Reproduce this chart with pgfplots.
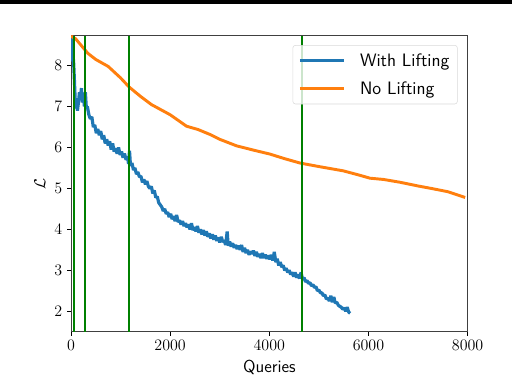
\documentclass[border=0pt]{standalone}
\usepackage{pgfplots}
\pgfplotsset{compat=1.18}
\definecolor{mblue}{HTML}{1F77B4}
\definecolor{morange}{HTML}{FF7F0E}
\definecolor{mgreen}{HTML}{008000}

\begin{document}
\begin{tikzpicture}
\useasboundingbox (0,0) rectangle (384pt,283.5pt);
\begin{axis}[
    at={(53.25pt,34.7pt)}, anchor=south west,
    scale only axis,
    width=297.5pt, height=222pt,
    xmin=0, xmax=8000, ymin=1.5, ymax=8.73,
    xtick={0,2000,4000,6000,8000},
    ytick={2,3,4,5,6,7,8},
    scaled x ticks=false,
    xticklabel style={/pgf/number format/1000 sep=},
    tick align=outside, tick pos=left,
    major tick length=3pt,
    tick style={black, line width=0.6pt},
    axis line style={black!75, line width=0.6pt},
    tick label style={font=\fontsize{12.4}{14}\selectfont},
    label style={font=\fontsize{13}{15}\sffamily},
    xlabel={Queries},
    ylabel={$\mathcal{L}$},
    legend cell align=left,
    legend style={at={(1,1)}, anchor=north east, xshift=-7.5pt, yshift=-7pt,
        draw=black!15, rounded corners=2pt, fill=white, fill opacity=0.8,
        text opacity=1, draw opacity=1,
        font=\fontsize{13.5}{16}\sffamily,
        row sep=6pt, inner xsep=4pt, inner ysep=4pt,
        /tikz/every odd column/.append style={column sep=9pt}},
    legend image code/.code={\draw[#1] (0pt,0pt) -- (33pt,0pt);},
    every axis plot/.append style={line cap=butt},
]
\addplot[draw=mblue, line width=2.4pt, line join=bevel] coordinates {
(0,8.72) (10,8.55) (20,8.65) (30,8.2) (40,8.1) (50,8.15) (60,7.9) (70,7.6)
(80,7.3) (90,7.05) (100,7.15) (110,6.95) (120,7.05) (130,6.9) (150,7.1)
(170,7.35) (190,7.2) (210,7.45) (230,7.1) (250,7.3) (270,7.0) (290,7.35)
(310,6.95) (330,7.0) (360,6.8) (390,6.7) (420,6.75) (450,6.5) (480,6.55)
(510,6.35) (540,6.45) (570,6.3) (600,6.4) (630,6.2) (660,6.3) (690,6.1)
(720,6.2) (750,6.05) (780,6.15) (810,5.95) (840,6.1) (870,5.9) (900,5.98)
(930,5.85) (960,6.0) (990,5.82) (1020,5.9) (1050,5.75) (1080,5.85) (1110,5.7)
(1140,5.78) (1160,5.6) (1180,5.92) (1200,5.55) (1230,5.62) (1260,5.45)
(1290,5.5) (1320,5.35) (1350,5.4) (1380,5.28) (1410,5.3) (1440,5.15)
(1470,5.22) (1500,5.1) (1530,5.18) (1560,5.05) (1590,5.0) (1620,5.05)
(1650,4.88) (1680,4.95) (1710,4.78) (1740,4.8) (1770,4.65) (1800,4.6)
(1830,4.55) (1860,4.45) (1890,4.5) (1920,4.38) (1950,4.42) (1980,4.3)
(2010,4.38) (2040,4.25) (2070,4.32) (2100,4.2) (2130,4.35) (2160,4.18)
(2190,4.22) (2220,4.12) (2250,4.2) (2280,4.08) (2310,4.15) (2340,4.05)
(2370,4.12) (2400,4.0) (2430,4.15) (2460,3.98) (2490,4.05) (2520,3.95)
(2550,4.08) (2580,3.92) (2610,4.0) (2640,3.88) (2670,3.98) (2700,3.85)
(2730,3.95) (2760,3.82) (2790,3.9) (2820,3.78) (2850,3.88) (2880,3.75)
(2910,3.85) (2940,3.72) (2970,3.8) (3000,3.68) (3030,3.82) (3060,3.7)
(3090,3.72) (3120,3.62) (3150,3.95) (3170,3.6) (3200,3.7) (3230,3.58)
(3260,3.66) (3290,3.55) (3320,3.62) (3350,3.52) (3380,3.6) (3410,3.5)
(3440,3.62) (3470,3.45) (3500,3.55) (3530,3.42) (3560,3.5) (3590,3.38)
(3620,3.46) (3650,3.4) (3680,3.48) (3710,3.35) (3740,3.45) (3770,3.33)
(3800,3.4) (3830,3.3) (3860,3.42) (3890,3.3) (3920,3.38) (3950,3.28)
(3980,3.36) (4010,3.27) (4040,3.38) (4070,3.24) (4100,3.45) (4130,3.2)
(4160,3.28) (4190,3.12) (4220,3.2) (4250,3.08) (4280,3.12) (4310,3.0)
(4340,3.05) (4370,2.95) (4400,3.0) (4430,2.9) (4460,2.95) (4490,2.85)
(4520,2.95) (4550,2.82) (4580,2.9) (4610,2.8) (4640,2.95) (4670,2.78)
(4700,2.82) (4730,2.72) (4760,2.75) (4790,2.68) (4820,2.7) (4850,2.62)
(4880,2.65) (4910,2.58) (4940,2.6) (4970,2.5) (5000,2.52) (5030,2.45)
(5060,2.45) (5090,2.38) (5120,2.4) (5150,2.3) (5180,2.32) (5210,2.25)
(5240,2.38) (5270,2.22) (5300,2.35) (5330,2.2) (5360,2.22) (5390,2.15)
(5420,2.12) (5450,2.1) (5480,2.05) (5510,2.08) (5540,2.0) (5570,2.1)
(5600,1.98) (5630,1.95)
};
\addlegendentry{With Lifting}
\addplot[draw=morange, line width=2.2pt, line join=bevel] coordinates {
(0,8.72) (90,8.66) (340,8.30) (500,8.15) (750,7.98) (1000,7.7) (1170,7.48)
(1400,7.25) (1620,7.05) (2000,6.8) (2330,6.52) (2560,6.44) (2800,6.32)
(3000,6.2) (3340,6.04) (3700,5.93) (4010,5.84) (4300,5.73) (4620,5.62)
(5020,5.53) (5490,5.43) (5800,5.33) (6030,5.25) (6300,5.22) (6640,5.15)
(7000,5.06) (7310,4.99) (7600,4.92) (7950,4.78)
};
\addlegendentry{No Lifting}
\addplot[draw=mgreen, line width=1.5pt, forget plot] coordinates {(55,1.5) (55,8.73)};
\addplot[draw=mgreen, line width=1.5pt, forget plot] coordinates {(285,1.5) (285,8.73)};
\addplot[draw=mgreen, line width=1.5pt, forget plot] coordinates {(1170,1.5) (1170,8.73)};
\addplot[draw=mgreen, line width=1.5pt, forget plot] coordinates {(4655,1.5) (4655,8.73)};
\end{axis}
\fill[black] (0,280.8pt) rectangle (384pt,283.5pt);
\end{tikzpicture}
\end{document}
